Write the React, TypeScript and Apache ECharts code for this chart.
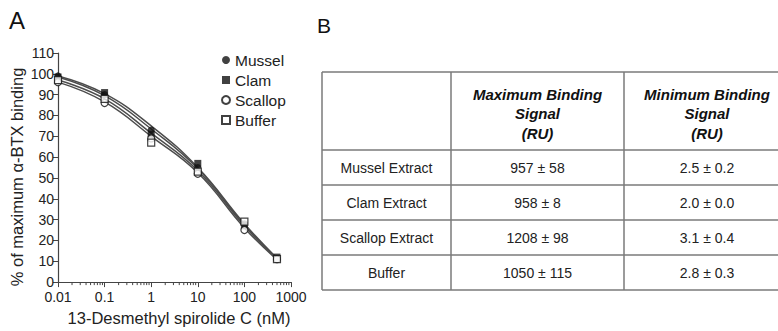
import React, { useEffect, useRef } from 'react';
import * as echarts from 'echarts';

const concentrations = [0.01, 0.1, 1, 10, 100, 500];
const seriesNames = ['Mussel', 'Clam', 'Scallop', 'Buffer'];
// measured points
const mussel = [99, 90, 73, 55, 28, 11];
const clam = [98.5, 91, 71, 57, 27, 12];
const scallop = [96, 86, 69, 52, 25, 11];
const buffer = [97, 88, 67, 53, 29, 11];
// fitted curves at the same concentrations
const musselFit = [99, 90.5, 75, 55, 28, 11.5];
const clamFit = [98.5, 89.5, 73.5, 54.5, 27.5, 11.2];
const scallopFit = [97, 88, 71.5, 53.5, 27, 11];
const bufferFit = [96, 86.5, 70, 52.5, 26, 10.8];

const xTickLabels = ['0.01', '0.1', '1', '10', '100', '1000'];
const minorTickValues = [
  0.02, 0.03, 0.04, 0.05, 0.06, 0.07, 0.08, 0.09,
  0.2, 0.3, 0.4, 0.5, 0.6, 0.7, 0.8, 0.9,
  2, 3, 4, 5, 6, 7, 8, 9,
  20, 30, 40, 50, 60, 70, 80, 90,
  200, 300, 400, 500, 600, 700, 800, 900,
];

const yAxisTitle = '% of maximum α-BTX binding';
const xAxisTitle = '13-Desmethyl spirolide C (nM)';
const tableHeaders = ['', 'Maximum Binding\nSignal\n(RU)', 'Minimum Binding\nSignal\n(RU)'];
const tableRowNames = ['Mussel Extract', 'Clam Extract', 'Scallop Extract', 'Buffer'];
const maxBinding = ['957 ± 58', '958 ± 8', '1208 ± 98', '1050 ± 115'];
const minBinding = ['2.5 ± 0.2', '2.0 ± 0.0', '3.1 ± 0.4', '2.8 ± 0.3'];

const FONT = '"Liberation Sans", Arial, sans-serif';

export default function App() {
  const ref = useRef<HTMLDivElement>(null);
  useEffect(() => {
    if (!ref.current) return;
    const chart = echarts.init(ref.current, undefined, { renderer: 'svg' });
    const valuesList = [mussel, clam, scallop, buffer];
    const fitList = [musselFit, clamFit, scallopFit, bufferFit];
    const symbols = ['circle', 'rect', 'circle', 'rect'];
    const filled = [true, true, false, false];

    const lineSeries = fitList.map((vals, i) => ({
      name: seriesNames[i] + ' fit',
      type: 'line',
      data: concentrations.map((c, j) => [c, vals[j]]),
      smooth: 0.45,
      showSymbol: false,
      symbol: 'none',
      lineStyle: { color: '#4d4d4d', width: 1.5 },
      z: 2,
      silent: true,
    }));
    const scatterSeries = valuesList.map((vals, i) => ({
      name: seriesNames[i],
      type: 'scatter',
      data: concentrations.map((c, j) => [c, vals[j]]),
      symbol: symbols[i],
      symbolSize: 7,
      itemStyle: filled[i]
        ? { color: '#111' }
        : { color: '#fff', borderColor: '#111', borderWidth: 1.2 },
      z: 3,
    }));

    // table graphics
    const tLeft = 322, tRight = 790, tTop = 72;
    const rowLines = [72, 150, 185, 220, 255, 290];
    const colLines = [322, 451, 624];
    const colCenters = [386.5, 537.5, 707];
    const graphics: any[] = [];
    rowLines.forEach((y) =>
      graphics.push({ type: 'line', shape: { x1: tLeft, y1: y, x2: tRight, y2: y }, style: { stroke: '#7a7a7a', lineWidth: 1.5 } })
    );
    colLines.forEach((x) =>
      graphics.push({ type: 'line', shape: { x1: x, y1: tTop, x2: x, y2: 290 }, style: { stroke: '#7a7a7a', lineWidth: 1.5 } })
    );
    tableHeaders.forEach((h, i) => {
      if (!h) return;
      graphics.push({
        type: 'text', x: colCenters[i], y: 113.5,
        style: { text: h, font: `italic bold 15px ${FONT}`, fill: '#111', align: 'center', verticalAlign: 'middle', lineHeight: 19.5 },
      });
    });
    tableRowNames.forEach((n, r) => {
      const cy = (rowLines[r + 1] + rowLines[r + 2]) / 2;
      [n, maxBinding[r], minBinding[r]].forEach((t, c) => {
        graphics.push({
          type: 'text', x: colCenters[c], y: cy,
          style: { text: t, font: `14px ${FONT}`, fill: '#222', align: 'center', verticalAlign: 'middle' },
        });
      });
    });
    graphics.push({ type: 'text', x: 9, y: 8, style: { text: 'A', font: `24px ${FONT}`, fill: '#111' } });
    graphics.push({ type: 'text', x: 317, y: 15, style: { text: 'B', font: `21px ${FONT}`, fill: '#111' } });
    graphics.push({
      type: 'text', x: 17, y: 177, rotation: Math.PI / 2,
      style: { text: yAxisTitle, font: `16.5px ${FONT}`, fill: '#222', align: 'center', verticalAlign: 'middle' },
    });

    chart.setOption({
      animation: false,
      backgroundColor: '#fff',
      textStyle: { fontFamily: FONT },
      grid: { left: 58, right: 487, top: 53, bottom: 44, containLabel: false },
      legend: {
        orient: 'vertical',
        left: 216,
        top: 47,
        itemWidth: 8,
        itemHeight: 8,
        itemGap: 4,
        textStyle: { fontSize: 15.5, color: '#222', fontFamily: FONT },
        data: seriesNames,
      },
      xAxis: {
        type: 'log',
        logBase: 10,
        min: 0.01,
        max: 1000,
        name: xAxisTitle,
        nameLocation: 'middle',
        nameGap: 26,
        nameTextStyle: { fontSize: 16.5, color: '#222', fontFamily: FONT, padding: [0, 0, 0, 9] },
        axisLine: { lineStyle: { color: '#444', width: 1.2 } },
        axisTick: { show: true, inside: false, length: 5, lineStyle: { color: '#444' } },
        axisLabel: {
          fontSize: 14, color: '#222', margin: 8, fontFamily: FONT,
          formatter: (v: number) => xTickLabels[Math.round(Math.log10(v)) + 2] ?? '',
        },
        splitLine: { show: false },
      },
      yAxis: {
        type: 'value',
        min: 0,
        max: 110,
        interval: 10,
        axisLine: { show: true, lineStyle: { color: '#444', width: 1.2 } },
        axisTick: { show: true, inside: false, length: 5, lineStyle: { color: '#444' } },
        axisLabel: { fontSize: 14, color: '#222', margin: 4, fontFamily: FONT },
        splitLine: { show: false },
      },
      series: [
        ...lineSeries,
        {
          name: 'minor ticks',
          type: 'custom',
          silent: true,
          clip: false,
          data: minorTickValues.map((v) => [v, 0]),
          encode: { x: 0, y: 1 },
          renderItem: (params: any, api: any) => {
            const p = api.coord([api.value(0), 0]);
            return {
              type: 'line',
              shape: { x1: p[0], y1: p[1], x2: p[0], y2: p[1] + 3 },
              style: { stroke: '#444', lineWidth: 1 },
            };
          },
          z: 1,
        },
        ...scatterSeries,
      ],
      graphic: graphics,
    });
    return () => chart.dispose();
  }, []);
  return <div ref={ref} style={{ position: 'absolute', left: 0, top: 0, width: 778, height: 331 }} />;
}
